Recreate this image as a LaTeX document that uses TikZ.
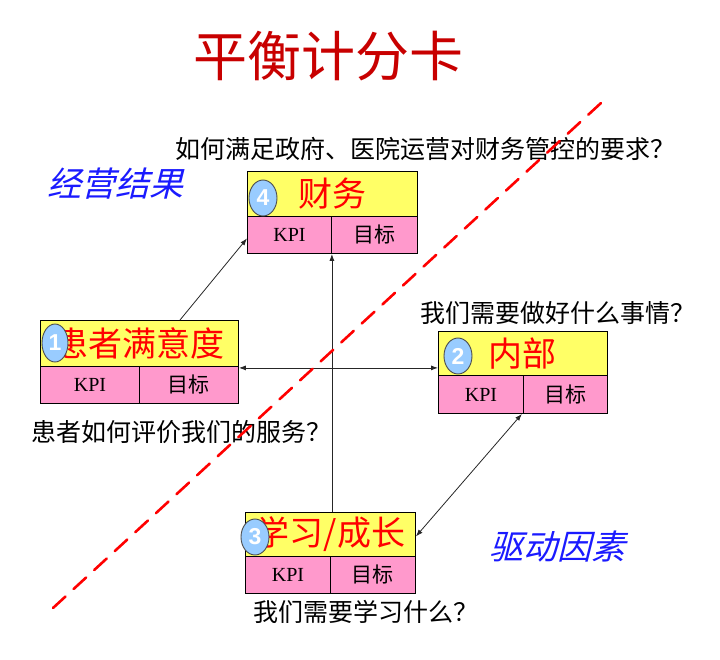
\documentclass[tikz,border=0pt]{standalone}
\usepackage{fontspec}
\usetikzlibrary{arrows.meta,shapes.geometric,calc}
\newfontfamily\cjk{Noto Sans CJK SC}
\newfontfamily\cjkit[FakeSlant=0.25]{Noto Sans CJK SC}
\newfontfamily\kpifont{Liberation Serif}
\newfontfamily\numfont{Liberation Sans}
\definecolor{boxyellow}{HTML}{FFFF66}
\definecolor{boxpink}{HTML}{FF99CC}
\definecolor{ellblue}{HTML}{99CCFF}
\definecolor{titlered}{HTML}{C80000}
\definecolor{labblue}{HTML}{1A1AFF}
\tikzset{
  headbox/.style={draw=black, line width=0.9pt, fill=boxyellow, inner sep=0pt, anchor=north west,
    font=\cjk\fontsize{34}{34}\selectfont, text=red},
  cellbox/.style={draw=black, line width=0.9pt, fill=boxpink, inner sep=0pt, anchor=north west},
  kpitext/.style={font=\kpifont\fontsize{20}{20}\selectfont},
  goaltext/.style={font=\cjk\fontsize{21}{21}\selectfont},
  numell/.style={ellipse, draw=black!70, line width=0.9pt, fill=ellblue, inner sep=0pt,
    minimum width=28pt, minimum height=36pt, text=white, font=\numfont\bfseries\fontsize{23}{23}\selectfont},
  question/.style={font=\cjk\fontsize{25}{25}\selectfont, text=black, inner sep=0pt},
  sidelabel/.style={font=\cjkit\fontsize{34}{34}\selectfont, text=labblue, inner sep=0pt},
  conn/.style={line width=0.8pt, black!85},
  tip/.style={-{Latex[length=7pt,width=5pt]}},
  dtip/.style={{Latex[length=7pt,width=5pt]}-{Latex[length=7pt,width=5pt]}},
  divline/.style={draw=red, line width=2.6pt, dash pattern=on 17pt off 11pt, line cap=round}
}
\begin{document}
\begin{tikzpicture}[x=1pt,y=-1pt]
\useasboundingbox (0,0) rectangle (720,659);
% title
\node[font=\cjk\fontsize{54}{54}\selectfont, text=titlered, inner sep=0pt] (title) at (328,56) {平衡计分卡};
% questions and side labels
\node[question] (q1) at (425,149) {如何满足政府、医院运营对财务管控的要求？};
\node[question] (q2) at (558,313) {我们需要做好什么事情？};
\node[question] (q3) at (181,432) {患者如何评价我们的服务？};
\node[question] (q4) at (366,612) {我们需要学习什么？};
\node[sidelabel] (l1) at (115,184) {经营结果};
\node[sidelabel] (l2) at (557,547) {驱动因素};
% box 4: 财务
\node[headbox, minimum width=170pt, minimum height=45pt] (cwT) at (247,171) {财务};
\node[cellbox, minimum width=84pt, minimum height=37pt, kpitext] (cwK) at (247,216) {KPI};
\node[cellbox, minimum width=86pt, minimum height=37pt, goaltext] (cwG) at (331,216) {目标};
\node[numell] (e4) at (263,198) {4};
% box 1: 患者满意度
\node[headbox, minimum width=198pt, minimum height=46pt] (hzT) at (40,320) {患者满意度};
\node[cellbox, minimum width=99pt, minimum height=37pt, kpitext] (hzK) at (40,366) {KPI};
\node[cellbox, minimum width=99pt, minimum height=37pt, goaltext] (hzG) at (139,366) {目标};
\node[numell, minimum width=26pt, minimum height=38pt] (e1) at (55,343) {1};
% box 2: 内部
\node[headbox, minimum width=169pt, minimum height=44pt] (nbT) at (438,331) {内部};
\node[cellbox, minimum width=85pt, minimum height=38pt, kpitext] (nbK) at (438,375) {KPI};
\node[cellbox, minimum width=84pt, minimum height=38pt, goaltext] (nbG) at (523,375) {目标};
\node[numell] (e2) at (458,356) {2};
% box 3: 学习/成长
\node[headbox, minimum width=170pt, minimum height=44pt] (xxT) at (245,512) {学习/成长};
\node[cellbox, minimum width=85pt, minimum height=37pt, kpitext] (xxK) at (245,556) {KPI};
\node[cellbox, minimum width=85pt, minimum height=37pt, goaltext] (xxG) at (330,556) {目标};
\node[numell] (e3) at (255,537) {3};
% connectors
\draw[conn, tip] ([xshift=140pt]hzT.north west) -- ([yshift=-3.5pt]cwK.west);
\draw[conn, tip] (xxT.north -| cwK.east) -- (cwK.south east);
\draw[conn, dtip] ([yshift=-1pt]hzT.south east) -- ([yshift=-1pt]hzT.south east -| nbT.west);
\draw[conn, dtip] ([xshift=-2pt]nbK.south east) -- ([yshift=-2pt]xxT.east);
% dashed divider
\coordinate (dA) at (53,608);
\coordinate (dB) at (601,103);
\draw[divline] (dA) -- (dB);
\end{tikzpicture}
\end{document}
